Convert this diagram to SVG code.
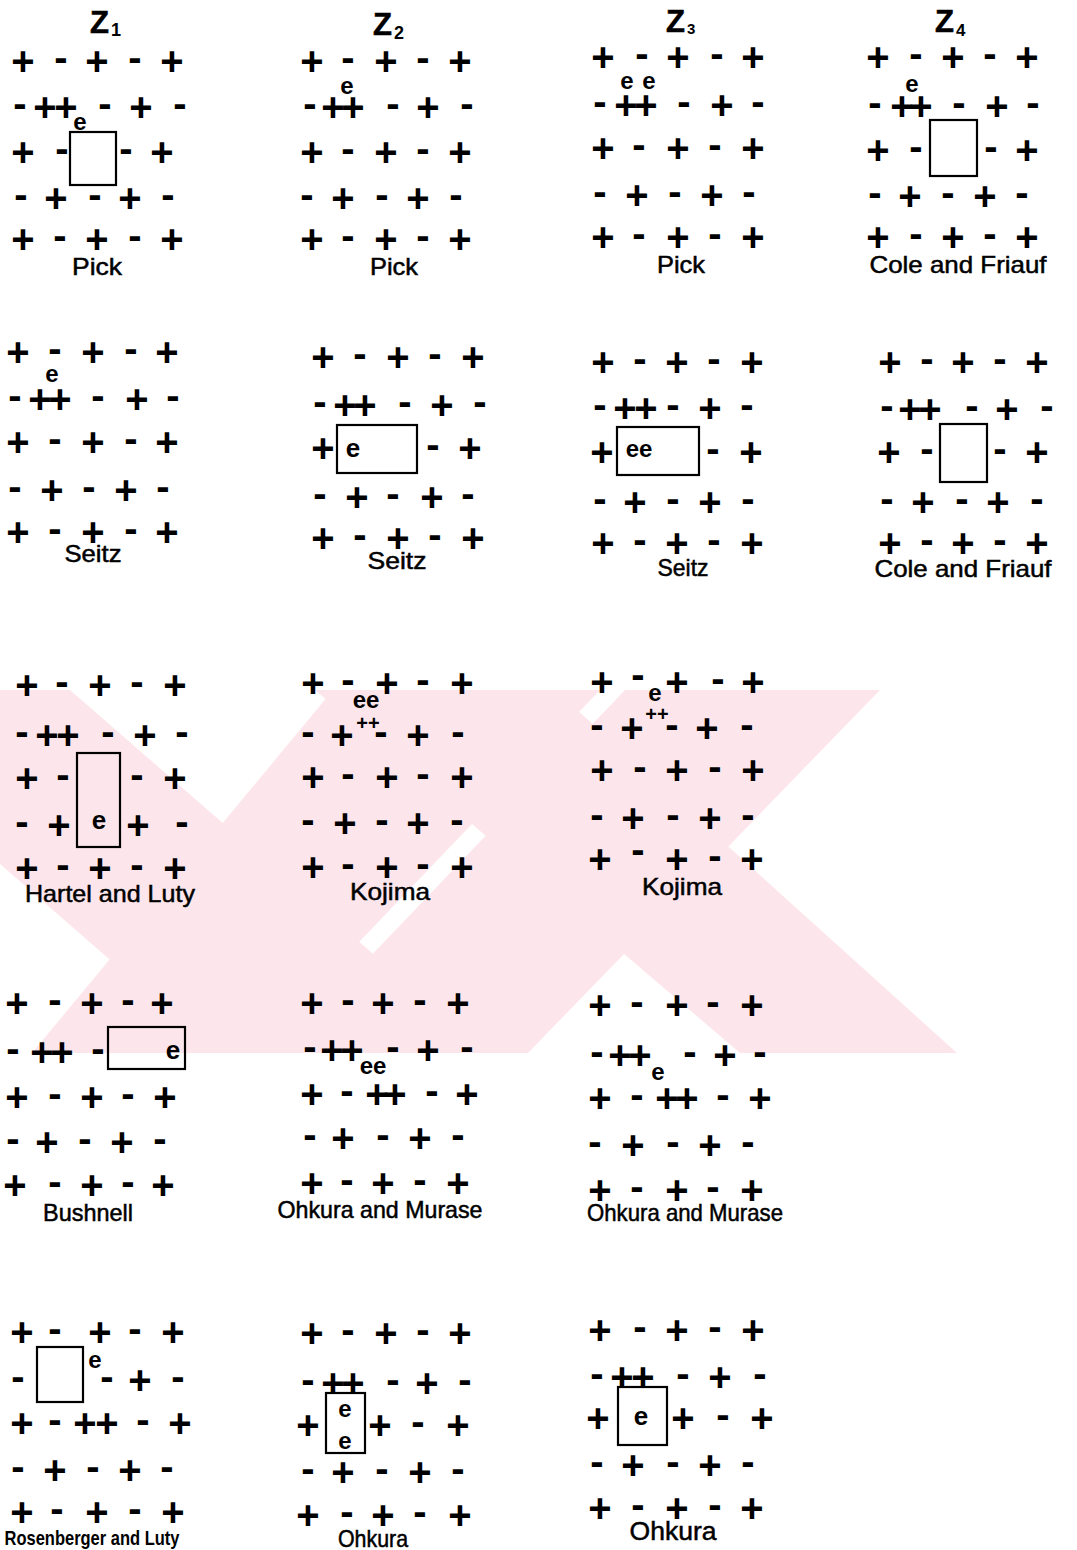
<svg xmlns="http://www.w3.org/2000/svg" width="1077" height="1550" viewBox="0 0 1077 1550">
<style>
.s{font-family:"Liberation Sans",Arial,sans-serif;font-weight:bold;font-size:40px;fill:#000}
.e{font-family:"Liberation Sans",Arial,sans-serif;font-weight:bold;font-size:24px;fill:#000;text-anchor:middle}
.eb{font-size:26px}
.pp{font-family:"Liberation Sans",Arial,sans-serif;font-weight:bold;font-size:20px;fill:#000;text-anchor:middle}
.lbl{font-family:"Liberation Sans",Arial,sans-serif;font-size:24px;fill:#000;stroke:#000;stroke-width:0.5;text-anchor:middle}
.t{font-family:"Liberation Sans",Arial,sans-serif;font-weight:bold;font-size:31px;fill:#000;stroke:#000;stroke-width:0.6}
.sub{font-family:"Liberation Sans",Arial,sans-serif;font-weight:bold;font-size:18px;fill:#000}
.box{fill:none;stroke:#000;stroke-width:2.2}
.wm{fill:#fde6eb}
</style>
<defs>
<text id="p" class="s" x="0" y="14" text-anchor="middle">+</text>
<text id="m" class="s" x="0" y="10" text-anchor="middle">-</text>
</defs>
<rect width="1077" height="1550" fill="#fff"/>
<g id="watermark">
<polygon class="wm" points="0,690 70,690 487,1053 217,1053 0,864"/>
<polygon class="wm" points="333,690 600,690 253,1053 32,1053"/>
<polygon class="wm" points="625,690 880,690 528,1053 278,1053"/>
<polygon class="wm" points="315,690 555,690 957,1053 740,1053"/>
</g>
<g id="connectors"></g>

<g id="z1">
<text class="t" x="90" y="33">Z</text><text class="sub" x="111" y="36">1</text>
<use href="#p" x="23" y="61"/><use href="#m" x="61" y="61"/><use href="#p" x="97" y="61"/><use href="#m" x="135" y="61"/><use href="#p" x="172" y="61"/>
<use href="#m" x="20" y="107"/><use href="#p" x="45" y="107"/><use href="#p" x="66" y="107"/><use href="#m" x="105" y="107"/><use href="#p" x="141" y="107"/><use href="#m" x="180" y="107"/>
<text class="e" x="80" y="130">e</text>
<use href="#p" x="23" y="152"/><use href="#m" x="62" y="152"/><rect class="box" x="70" y="132" width="46" height="53"/><use href="#m" x="126" y="152"/><use href="#p" x="162" y="152"/>
<use href="#m" x="21" y="198"/><use href="#p" x="56" y="198"/><use href="#m" x="95" y="198"/><use href="#p" x="130" y="198"/><use href="#m" x="168" y="198"/>
<use href="#p" x="23" y="239"/><use href="#m" x="60" y="239"/><use href="#p" x="97" y="239"/><use href="#m" x="135" y="239"/><use href="#p" x="172" y="239"/>
<text class="lbl" x="97" y="275" textLength="50" lengthAdjust="spacingAndGlyphs">Pick</text>
</g>

<g id="z2">
<text class="t" x="373" y="35">Z</text><text class="sub" x="394" y="39">2</text>
<use href="#p" x="312" y="61"/><use href="#m" x="348" y="61"/><use href="#p" x="386" y="61"/><use href="#m" x="423" y="61"/><use href="#p" x="460" y="61"/>
<use href="#m" x="310" y="107"/><use href="#p" x="333" y="107"/><use href="#p" x="353" y="107"/><use href="#m" x="393" y="107"/><use href="#p" x="428" y="107"/><use href="#m" x="467" y="107"/>
<text class="e" x="347" y="94">e</text>
<use href="#p" x="312" y="152"/><use href="#m" x="348" y="152"/><use href="#p" x="386" y="152"/><use href="#m" x="423" y="152"/><use href="#p" x="460" y="152"/>
<use href="#m" x="307" y="198"/><use href="#p" x="343" y="198"/><use href="#m" x="382" y="198"/><use href="#p" x="418" y="198"/><use href="#m" x="456" y="198"/>
<use href="#p" x="312" y="239"/><use href="#m" x="348" y="239"/><use href="#p" x="386" y="239"/><use href="#m" x="423" y="239"/><use href="#p" x="460" y="239"/>
<text class="lbl" x="394" y="275" textLength="48" lengthAdjust="spacingAndGlyphs">Pick</text>
</g>

<g id="z3">
<text class="t" x="666" y="32">Z</text><text class="sub" x="687" y="34" style="font-size:15px">3</text>
<use href="#p" x="603" y="57"/><use href="#m" x="642" y="57"/><use href="#p" x="678" y="57"/><use href="#m" x="717" y="57"/><use href="#p" x="753" y="57"/>
<use href="#m" x="600" y="105"/><use href="#p" x="626" y="105"/><use href="#p" x="646" y="105"/><use href="#m" x="684" y="105"/><use href="#p" x="722" y="105"/><use href="#m" x="758" y="105"/>
<text class="e" x="627" y="89">e</text><text class="e" x="649" y="89">e</text>
<use href="#p" x="603" y="148"/><use href="#m" x="639" y="148"/><use href="#p" x="678" y="148"/><use href="#m" x="715" y="148"/><use href="#p" x="753" y="148"/>
<use href="#m" x="600" y="195"/><use href="#p" x="637" y="195"/><use href="#m" x="675" y="195"/><use href="#p" x="712" y="195"/><use href="#m" x="749" y="195"/>
<use href="#p" x="603" y="237"/><use href="#m" x="639" y="237"/><use href="#p" x="678" y="237"/><use href="#m" x="715" y="237"/><use href="#p" x="753" y="237"/>
<text class="lbl" x="681" y="273" textLength="48" lengthAdjust="spacingAndGlyphs">Pick</text>
</g>

<g id="z4">
<text class="t" x="935" y="32">Z</text><text class="sub" x="956" y="36" style="font-size:17px">4</text>
<use href="#p" x="878" y="57"/><use href="#m" x="916" y="57"/><use href="#p" x="953" y="57"/><use href="#m" x="990" y="57"/><use href="#p" x="1027" y="57"/>
<use href="#m" x="875" y="106"/><use href="#p" x="902" y="106"/><use href="#p" x="921" y="106"/><use href="#m" x="959" y="106"/><use href="#p" x="997" y="106"/><use href="#m" x="1033" y="106"/>
<text class="e" x="912" y="92">e</text>
<use href="#p" x="878" y="150"/><use href="#m" x="916" y="150"/><rect class="box" x="930" y="120" width="47" height="56"/><use href="#m" x="991" y="150"/><use href="#p" x="1027" y="150"/>
<use href="#m" x="875" y="196"/><use href="#p" x="910" y="196"/><use href="#m" x="948" y="196"/><use href="#p" x="985" y="196"/><use href="#m" x="1022" y="196"/>
<use href="#p" x="878" y="237"/><use href="#m" x="916" y="237"/><use href="#p" x="953" y="237"/><use href="#m" x="990" y="237"/><use href="#p" x="1027" y="237"/>
<text class="lbl" x="958" y="273" textLength="177" lengthAdjust="spacingAndGlyphs">Cole and Friauf</text>
</g>

<g id="seitz1">
<use href="#p" x="18" y="352"/><use href="#m" x="55" y="352"/><use href="#p" x="93" y="352"/><use href="#m" x="131" y="352"/><use href="#p" x="167" y="352"/>
<text class="e" x="52" y="382">e</text>
<use href="#m" x="15" y="399"/><use href="#p" x="40" y="399"/><use href="#p" x="60" y="399"/><use href="#m" x="98" y="399"/><use href="#p" x="137" y="399"/><use href="#m" x="173" y="399"/>
<use href="#p" x="18" y="442"/><use href="#m" x="55" y="442"/><use href="#p" x="93" y="442"/><use href="#m" x="131" y="442"/><use href="#p" x="167" y="442"/>
<use href="#m" x="15" y="490"/><use href="#p" x="52" y="490"/><use href="#m" x="89" y="490"/><use href="#p" x="126" y="490"/><use href="#m" x="163" y="490"/>
<use href="#p" x="18" y="532"/><use href="#m" x="55" y="532"/><use href="#p" x="93" y="532"/><use href="#m" x="131" y="532"/><use href="#p" x="167" y="532"/>
<text class="lbl" x="93" y="562" textLength="57" lengthAdjust="spacingAndGlyphs">Seitz</text>
</g>

<g id="seitz2">
<use href="#p" x="323" y="357"/><use href="#m" x="360" y="357"/><use href="#p" x="398" y="357"/><use href="#m" x="435" y="357"/><use href="#p" x="473" y="357"/>
<use href="#m" x="320" y="405"/><use href="#p" x="345" y="405"/><use href="#p" x="365" y="405"/><use href="#m" x="405" y="405"/><use href="#p" x="442" y="405"/><use href="#m" x="480" y="405"/>
<use href="#p" x="323" y="448"/><rect class="box" x="337" y="425" width="80" height="48"/><text class="e eb" x="353" y="457">e</text><use href="#m" x="433" y="448"/><use href="#p" x="470" y="448"/>
<use href="#m" x="320" y="497"/><use href="#p" x="357" y="497"/><use href="#m" x="393" y="497"/><use href="#p" x="432" y="497"/><use href="#m" x="468" y="497"/>
<use href="#p" x="323" y="538"/><use href="#m" x="360" y="538"/><use href="#p" x="398" y="538"/><use href="#m" x="435" y="538"/><use href="#p" x="473" y="538"/>
<text class="lbl" x="397" y="569" textLength="59" lengthAdjust="spacingAndGlyphs">Seitz</text>
</g>

<g id="seitz3">
<use href="#p" x="603" y="362"/><use href="#m" x="640" y="362"/><use href="#p" x="677" y="362"/><use href="#m" x="714" y="362"/><use href="#p" x="752" y="362"/>
<use href="#m" x="600" y="408"/><use href="#p" x="625" y="408"/><use href="#p" x="646" y="408"/><use href="#m" x="673" y="408"/><use href="#p" x="710" y="408"/><use href="#m" x="747" y="408"/>
<use href="#p" x="602" y="452"/><rect class="box" x="617" y="427" width="82" height="48"/><text class="e" x="639" y="457">ee</text><use href="#m" x="713" y="452"/><use href="#p" x="751" y="452"/>
<use href="#m" x="600" y="502"/><use href="#p" x="635" y="502"/><use href="#m" x="673" y="502"/><use href="#p" x="710" y="502"/><use href="#m" x="748" y="502"/>
<use href="#p" x="603" y="543"/><use href="#m" x="640" y="543"/><use href="#p" x="677" y="543"/><use href="#m" x="714" y="543"/><use href="#p" x="752" y="543"/>
<text class="lbl" x="683" y="576" textLength="51" lengthAdjust="spacingAndGlyphs">Seitz</text>
</g>

<g id="cole2">
<use href="#p" x="890" y="362"/><use href="#m" x="927" y="362"/><use href="#p" x="963" y="362"/><use href="#m" x="1000" y="362"/><use href="#p" x="1037" y="362"/>
<use href="#m" x="887" y="409"/><use href="#p" x="910" y="409"/><use href="#p" x="930" y="409"/><use href="#m" x="972" y="409"/><use href="#p" x="1007" y="409"/><use href="#m" x="1047" y="409"/>
<use href="#p" x="889" y="452"/><use href="#m" x="927" y="452"/><rect class="box" x="940" y="424" width="47" height="58"/><use href="#m" x="1000" y="452"/><use href="#p" x="1037" y="452"/>
<use href="#m" x="887" y="502"/><use href="#p" x="923" y="502"/><use href="#m" x="962" y="502"/><use href="#p" x="998" y="502"/><use href="#m" x="1037" y="502"/>
<use href="#p" x="890" y="543"/><use href="#m" x="927" y="543"/><use href="#p" x="963" y="543"/><use href="#m" x="1000" y="543"/><use href="#p" x="1037" y="543"/>
<text class="lbl" x="963" y="577" textLength="177" lengthAdjust="spacingAndGlyphs">Cole and Friauf</text>
</g>

<g id="hartel">
<use href="#p" x="27" y="685"/><use href="#m" x="62" y="685"/><use href="#p" x="100" y="685"/><use href="#m" x="137" y="685"/><use href="#p" x="175" y="685"/>
<use href="#m" x="22" y="735"/><use href="#p" x="47" y="735"/><use href="#p" x="68" y="735"/><use href="#m" x="108" y="735"/><use href="#p" x="145" y="735"/><use href="#m" x="182" y="735"/>
<use href="#p" x="27" y="778"/><use href="#m" x="63" y="778"/><rect class="box" x="77" y="753" width="43" height="94"/><use href="#m" x="137" y="778"/><use href="#p" x="175" y="778"/>
<use href="#m" x="22" y="825"/><use href="#p" x="59" y="825"/><text class="e eb" x="99" y="829">e</text><use href="#p" x="138" y="825"/><use href="#m" x="182" y="825"/>
<use href="#p" x="27" y="868"/><use href="#m" x="63" y="868"/><use href="#p" x="100" y="868"/><use href="#m" x="137" y="868"/><use href="#p" x="175" y="868"/>
<text class="lbl" x="110" y="902" textLength="170" lengthAdjust="spacingAndGlyphs">Hartel and Luty</text>
</g>

<g id="kojima1">
<use href="#p" x="313" y="683"/><use href="#m" x="348" y="683"/><use href="#p" x="387" y="683"/><use href="#m" x="423" y="683"/><use href="#p" x="462" y="683"/>
<text class="e" x="366" y="708">ee</text>
<use href="#m" x="308" y="735"/><use href="#p" x="342" y="735"/><text class="pp" x="368" y="730">++</text><use href="#m" x="381" y="735"/><use href="#p" x="418" y="735"/><use href="#m" x="458" y="735"/>
<use href="#p" x="313" y="777"/><use href="#m" x="348" y="777"/><use href="#p" x="387" y="777"/><use href="#m" x="423" y="777"/><use href="#p" x="462" y="777"/>
<use href="#m" x="308" y="823"/><use href="#p" x="345" y="823"/><use href="#m" x="382" y="823"/><use href="#p" x="418" y="823"/><use href="#m" x="457" y="823"/>
<use href="#p" x="313" y="867"/><use href="#m" x="348" y="867"/><use href="#p" x="387" y="867"/><use href="#m" x="423" y="867"/><use href="#p" x="462" y="867"/>
<text class="lbl" x="390" y="900" textLength="80" lengthAdjust="spacingAndGlyphs">Kojima</text>
</g>

<g id="kojima2">
<use href="#p" x="602" y="682"/><use href="#m" x="638" y="678"/><use href="#p" x="677" y="682"/><use href="#m" x="718" y="682"/><use href="#p" x="753" y="682"/>
<text class="e" x="655" y="701">e</text>
<text class="pp" x="657" y="721">++</text>
<use href="#m" x="597" y="728"/><use href="#p" x="632" y="728"/><use href="#m" x="672" y="728"/><use href="#p" x="707" y="728"/><use href="#m" x="747" y="728"/>
<use href="#p" x="602" y="770"/><use href="#m" x="640" y="770"/><use href="#p" x="677" y="770"/><use href="#m" x="715" y="770"/><use href="#p" x="753" y="770"/>
<use href="#m" x="597" y="818"/><use href="#p" x="633" y="818"/><use href="#m" x="673" y="818"/><use href="#p" x="710" y="818"/><use href="#m" x="748" y="818"/>
<use href="#p" x="600" y="859"/><use href="#m" x="638" y="853"/><use href="#p" x="677" y="859"/><use href="#m" x="715" y="859"/><use href="#p" x="752" y="859"/>
<text class="lbl" x="682" y="895" textLength="80" lengthAdjust="spacingAndGlyphs">Kojima</text>
</g>

<g id="bushnell">
<use href="#p" x="17" y="1003"/><use href="#m" x="55" y="1003"/><use href="#p" x="92" y="1003"/><use href="#m" x="128" y="1003"/><use href="#p" x="162" y="1003"/>
<use href="#m" x="13" y="1052"/><use href="#p" x="42" y="1052"/><use href="#p" x="62" y="1052"/><use href="#m" x="98" y="1052"/><rect class="box" x="108" y="1027" width="77" height="42"/><text class="e eb" x="173" y="1059">e</text>
<use href="#p" x="17" y="1097"/><use href="#m" x="55" y="1097"/><use href="#p" x="92" y="1097"/><use href="#m" x="128" y="1097"/><use href="#p" x="165" y="1097"/>
<use href="#m" x="13" y="1142"/><use href="#p" x="47" y="1142"/><use href="#m" x="85" y="1142"/><use href="#p" x="122" y="1142"/><use href="#m" x="160" y="1142"/>
<use href="#p" x="15" y="1185"/><use href="#m" x="55" y="1185"/><use href="#p" x="92" y="1185"/><use href="#m" x="128" y="1185"/><use href="#p" x="163" y="1185"/>
<text class="lbl" x="88" y="1221" textLength="90" lengthAdjust="spacingAndGlyphs">Bushnell</text>
</g>

<g id="ohkura-murase1">
<use href="#p" x="312" y="1003"/><use href="#m" x="348" y="1003"/><use href="#p" x="383" y="1003"/><use href="#m" x="420" y="1003"/><use href="#p" x="458" y="1003"/>
<use href="#m" x="310" y="1050"/><use href="#p" x="332" y="1050"/><use href="#p" x="352" y="1050"/><use href="#m" x="393" y="1050"/><use href="#p" x="428" y="1050"/><use href="#m" x="467" y="1050"/>
<text class="e" x="373" y="1074">ee</text>
<use href="#p" x="312" y="1094"/><use href="#m" x="347" y="1094"/><use href="#p" x="377" y="1094"/><use href="#p" x="395" y="1094"/><use href="#m" x="432" y="1094"/><use href="#p" x="467" y="1094"/>
<use href="#m" x="310" y="1138"/><use href="#p" x="343" y="1138"/><use href="#m" x="383" y="1138"/><use href="#p" x="420" y="1138"/><use href="#m" x="458" y="1138"/>
<use href="#p" x="312" y="1183"/><use href="#m" x="347" y="1183"/><use href="#p" x="383" y="1183"/><use href="#m" x="420" y="1183"/><use href="#p" x="458" y="1183"/>
<text class="lbl" x="380" y="1218" textLength="205" lengthAdjust="spacingAndGlyphs">Ohkura and Murase</text>
</g>

<g id="ohkura-murase2">
<use href="#p" x="600" y="1005"/><use href="#m" x="637" y="1005"/><use href="#p" x="677" y="1005"/><use href="#m" x="713" y="1005"/><use href="#p" x="752" y="1005"/>
<use href="#m" x="597" y="1055"/><use href="#p" x="620" y="1055"/><use href="#p" x="640" y="1055"/><use href="#m" x="690" y="1055"/><use href="#p" x="725" y="1055"/><use href="#m" x="760" y="1055"/>
<text class="e" x="658" y="1080">e</text>
<use href="#p" x="600" y="1098"/><use href="#m" x="637" y="1098"/><use href="#p" x="667" y="1098"/><use href="#p" x="687" y="1098"/><use href="#m" x="723" y="1098"/><use href="#p" x="760" y="1098"/>
<use href="#m" x="595" y="1145"/><use href="#p" x="633" y="1145"/><use href="#m" x="673" y="1145"/><use href="#p" x="710" y="1145"/><use href="#m" x="748" y="1145"/>
<use href="#p" x="600" y="1190"/><use href="#m" x="637" y="1190"/><use href="#p" x="677" y="1190"/><use href="#m" x="713" y="1190"/><use href="#p" x="752" y="1190"/>
<text class="lbl" x="685" y="1221" textLength="196" lengthAdjust="spacingAndGlyphs">Ohkura and Murase</text>
</g>

<g id="rosenberger">
<use href="#p" x="22" y="1332"/><use href="#m" x="55" y="1332"/><use href="#p" x="100" y="1332"/><use href="#m" x="135" y="1332"/><use href="#p" x="173" y="1332"/>
<rect class="box" x="37" y="1347" width="46" height="55"/><text class="e" x="95" y="1368">e</text>
<use href="#m" x="18" y="1380"/><use href="#m" x="107" y="1380"/><use href="#p" x="140" y="1380"/><use href="#m" x="178" y="1380"/>
<use href="#p" x="22" y="1423"/><use href="#m" x="55" y="1423"/><use href="#p" x="85" y="1423"/><use href="#p" x="107" y="1423"/><use href="#m" x="143" y="1423"/><use href="#p" x="180" y="1423"/>
<use href="#m" x="18" y="1470"/><use href="#p" x="55" y="1470"/><use href="#m" x="93" y="1470"/><use href="#p" x="130" y="1470"/><use href="#m" x="167" y="1470"/>
<use href="#p" x="22" y="1512"/><use href="#m" x="57" y="1512"/><use href="#p" x="97" y="1512"/><use href="#m" x="135" y="1512"/><use href="#p" x="173" y="1512"/>
<text class="lbl" x="92" y="1545" style="font-weight:bold;font-size:21px;stroke-width:0" textLength="175" lengthAdjust="spacingAndGlyphs">Rosenberger and Luty</text>
</g>

<g id="ohkura1">
<use href="#p" x="312" y="1333"/><use href="#m" x="348" y="1333"/><use href="#p" x="386" y="1333"/><use href="#m" x="423" y="1333"/><use href="#p" x="460" y="1333"/>
<use href="#m" x="308" y="1383"/><use href="#p" x="333" y="1383"/><use href="#p" x="353" y="1383"/><use href="#m" x="393" y="1383"/><use href="#p" x="427" y="1383"/><use href="#m" x="465" y="1383"/>
<rect class="box" x="326" y="1393" width="39" height="60"/><text class="e" x="345" y="1417">e</text><text class="e" x="345" y="1449">e</text>
<use href="#p" x="308" y="1425"/><use href="#p" x="380" y="1425"/><use href="#m" x="418" y="1425"/><use href="#p" x="458" y="1425"/>
<use href="#m" x="308" y="1472"/><use href="#p" x="343" y="1472"/><use href="#m" x="382" y="1472"/><use href="#p" x="420" y="1472"/><use href="#m" x="458" y="1472"/>
<use href="#p" x="308" y="1515"/><use href="#m" x="347" y="1515"/><use href="#p" x="383" y="1515"/><use href="#m" x="420" y="1515"/><use href="#p" x="460" y="1515"/>
<text class="lbl" x="373" y="1547" textLength="70" lengthAdjust="spacingAndGlyphs">Ohkura</text>
</g>

<g id="ohkura2">
<use href="#p" x="600" y="1330"/><use href="#m" x="640" y="1330"/><use href="#p" x="677" y="1330"/><use href="#m" x="715" y="1330"/><use href="#p" x="753" y="1330"/>
<use href="#m" x="597" y="1377"/><use href="#p" x="622" y="1377"/><use href="#p" x="643" y="1377"/><use href="#m" x="683" y="1377"/><use href="#p" x="720" y="1377"/><use href="#m" x="760" y="1377"/>
<use href="#p" x="598" y="1418"/><rect class="box" x="618" y="1387" width="49" height="58"/><text class="e eb" x="641" y="1425">e</text><use href="#p" x="683" y="1418"/><use href="#m" x="723" y="1418"/><use href="#p" x="762" y="1418"/>
<use href="#m" x="597" y="1465"/><use href="#p" x="633" y="1465"/><use href="#m" x="673" y="1465"/><use href="#p" x="710" y="1465"/><use href="#m" x="748" y="1465"/>
<use href="#p" x="600" y="1508"/><use href="#m" x="638" y="1508"/><use href="#p" x="677" y="1508"/><use href="#m" x="715" y="1508"/><use href="#p" x="752" y="1508"/>
<text class="lbl" x="673" y="1540" style="font-size:26px" textLength="87" lengthAdjust="spacingAndGlyphs">Ohkura</text>
</g>
</svg>
